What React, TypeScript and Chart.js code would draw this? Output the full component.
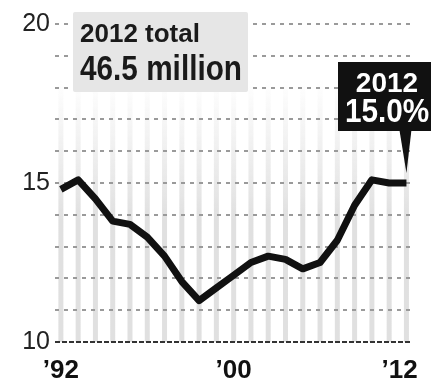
import React, { useEffect, useRef } from "react";
import { Chart, registerables } from "chart.js";

Chart.register(...registerables);

const years = [1992, 1993, 1994, 1995, 1996, 1997, 1998, 1999, 2000, 2001, 2002, 2003, 2004, 2005, 2006, 2007, 2008, 2009, 2010, 2011, 2012];
const rates = [14.8, 15.1, 14.5, 13.8, 13.7, 13.3, 12.7, 11.9, 11.3, 11.7, 12.1, 12.5, 12.7, 12.6, 12.3, 12.5, 13.2, 14.3, 15.1, 15.0, 15.0];
const xTickPositions = [1992, 2002, 2011.6];
const xTickLabels = ["’92", "’00", "’12"];
const yTickValues = [10, 11, 12, 13, 14, 15, 16, 17, 18, 19, 20];
const yLabelled = [10, 15, 20];
const totalTitle = "2012 total";
const totalValue = "46.5 million";
const calloutYear = "2012";
const calloutValue = "15.0%";

const FONT = "'Liberation Sans', Arial, sans-serif";

const decorPlugin = {
  id: "decor",
  beforeDraw(chart: any) {
    const { ctx, chartArea, scales } = chart;
    const xs = scales.x;
    const top = 80;
    const grad = ctx.createLinearGradient(0, top, 0, 220);
    grad.addColorStop(0, "rgba(224,224,224,0)");
    grad.addColorStop(1, "rgba(224,224,224,1)");
    ctx.save();
    ctx.fillStyle = grad;
    years.forEach((yr) => {
      const x = xs.getPixelForValue(yr);
      ctx.fillRect(x - 2.5, top, 5, chartArea.bottom - top);
    });
    ctx.restore();
  },
  beforeDatasetsDraw(chart: any) {
    const { ctx, chartArea, scales } = chart;
    const ys = scales.y;
    ctx.save();
    const yb = ys.getPixelForValue(10);
    ctx.strokeStyle = "#333";
    ctx.lineWidth = 2;
    ctx.setLineDash([5, 2]);
    ctx.beginPath();
    ctx.moveTo(chartArea.left, yb);
    ctx.lineTo(chartArea.right, yb);
    ctx.stroke();
    ctx.setLineDash([]);
    ctx.fillStyle = "#e6e6e6";
    ctx.beginPath();
    if ((ctx as any).roundRect) (ctx as any).roundRect(73, 12, 175, 80, 2);
    else ctx.rect(73, 12, 175, 80);
    ctx.fill();
    ctx.fillStyle = "#1a1a1a";
    ctx.textBaseline = "alphabetic";
    ctx.textAlign = "left";
    ctx.font = `bold 25px ${FONT}`;
    ctx.save();
    ctx.translate(80, 42);
    ctx.scale(1.04, 1);
    ctx.fillText(totalTitle, 0, 0);
    ctx.restore();
    ctx.font = `bold 35px ${FONT}`;
    ctx.save();
    ctx.translate(80, 80);
    ctx.scale(0.85, 1);
    ctx.fillText(totalValue, 0, 0);
    ctx.restore();
    ctx.restore();
  },
  afterDraw(chart: any) {
    const { ctx, scales, width } = chart;
    const xs = scales.x;
    const ys = scales.y;
    const tipX = xs.getPixelForValue(years[years.length - 1]);
    const tipY = ys.getPixelForValue(rates[rates.length - 1]) - 10;
    ctx.save();
    ctx.fillStyle = "#111";
    ctx.fillRect(338, 62, width - 338, 69);
    ctx.beginPath();
    ctx.moveTo(tipX - 7, 130);
    ctx.lineTo(tipX + 5, 130);
    ctx.lineTo(tipX, tipY);
    ctx.closePath();
    ctx.fill();
    ctx.fillStyle = "#fff";
    ctx.textAlign = "center";
    ctx.textBaseline = "alphabetic";
    ctx.font = `bold 28px ${FONT}`;
    ctx.fillText(calloutYear, 387, 92);
    ctx.font = `bold 33px ${FONT}`;
    ctx.save();
    ctx.translate(387, 122);
    ctx.scale(0.9, 1);
    ctx.fillText(calloutValue, 0, 0);
    ctx.restore();
    ctx.restore();
  },
};

export default function App() {
  const ref = useRef<HTMLCanvasElement | null>(null);
  useEffect(() => {
    document.body.style.margin = "0";
    const canvas = ref.current;
    if (!canvas) return;
    const chart = new Chart(canvas, {
      type: "line",
      data: {
        datasets: [
          {
            data: years.map((y, i) => ({ x: y, y: rates[i] })),
            borderColor: "#111",
            borderWidth: 7,
            pointRadius: 0,
            tension: 0,
            borderJoinStyle: "round",
            borderCapStyle: "butt",
            fill: false,
          },
        ],
      },
      options: {
        animation: false,
        responsive: true,
        maintainAspectRatio: false,
        layout: { padding: { top: 24, right: 13, left: 0, bottom: 0 } },
        plugins: { legend: { display: false }, tooltip: { enabled: false } },
        scales: {
          x: {
            type: "linear",
            min: 1991.66,
            max: 2012.23,
            afterFit(scale: any) {
              scale.height = 43;
            },
            afterBuildTicks(scale: any) {
              scale.ticks = xTickPositions.map((v) => ({ value: v }));
            },
            grid: { display: false, drawTicks: false },
            border: { display: false },
            ticks: {
              autoSkip: false,
              maxRotation: 0,
              padding: 13,
              color: "#111",
              font: { family: FONT, size: 26, weight: "bold" },
              callback(value: any) {
                const idx = xTickPositions.indexOf(Number(value));
                return idx >= 0 ? xTickLabels[idx] : "";
              },
            },
          },
          y: {
            min: 10,
            max: 20,
            afterFit(scale: any) {
              scale.width = 55;
            },
            afterBuildTicks(scale: any) {
              scale.ticks = yTickValues.map((v) => ({ value: v }));
            },
            grid: {
              drawTicks: false,
              lineWidth: 2,
              color: (c: any) => (c.tick && c.tick.value === 10 ? "rgba(0,0,0,0)" : "#9a9a9a"),
            },
            border: { display: false, dash: [4, 5] },
            ticks: {
              autoSkip: false,
              padding: 5,
              color: "#222",
              font: { family: FONT, size: 25 },
              callback(value: any) {
                return yLabelled.includes(Number(value)) ? String(value) : "";
              },
            },
          },
        },
      },
      plugins: [decorPlugin],
    } as any);
    return () => chart.destroy();
  }, []);
  return (
    <div style={{ width: 431, height: 385, position: "relative" }}>
      <canvas ref={ref} />
    </div>
  );
}
